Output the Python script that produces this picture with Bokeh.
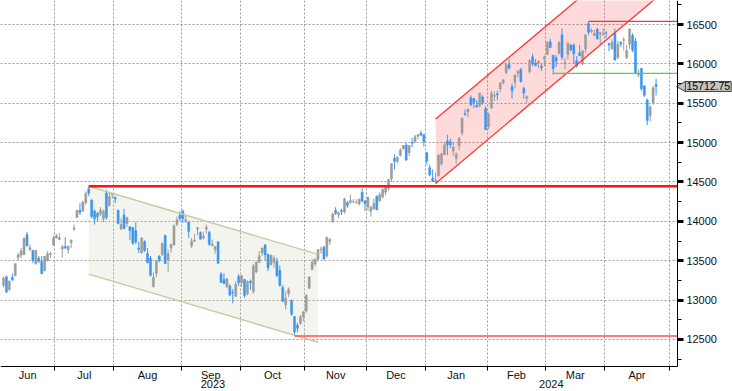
import math
from bokeh.plotting import figure
from bokeh.models import FixedTicker, Range1d, Label, ColumnDataSource, LinearAxis, Grid
from bokeh.embed import file_html
from bokeh.resources import INLINE

# ---------------- data (daily bars, Jun 2023 - Apr 2024) ----------------
opens = [
    13190,13295,13130,13290,13310,13540,13570,13580,13830,13640,13630,13460,13530,13490,13370,13500,13580,13700,
    13790,13770,13650,13680,13640,13730,13900,14050,14140,14130,14240,14410,14270,14130,14100,14090,14030,14360,14200,14340,
    14300,14140,13900,14080,13970,13930,13920,13880,13660,13600,13740,13590,13530,13170,13340,13560,13580,13820,13510,13660,13700,13960,14080,
    14130,14000,13990,13690,13750,13900,13860,13790,13900,13860,13690,13640,13740,13330,13260,13170,13180,13100,13050,13300,
    13220,13260,13080,13240,13110,13360,13480,13600,13700,13580,13450,13480,13490,13380,13160,12940,13080,12990,12790,12680,12700,12790,
    12860,13150,13390,13460,13520,13640,13670,13560,13740,13990,14140,14080,14140,14120,14240,14240,14250,14240,14220,14370,14260,
    14180,14130,14160,14320,14260,14310,14370,14420,14540,14800,14760,14840,14920,14970,14870,15000,15010,15080,15120,15100,
    14870,14680,14550,14500,14580,14730,14850,15020,15010,14890,14800,14960,15120,15370,15390,15570,15560,15470,15470,15580,15430,
    15200,15440,15590,15620,15680,15760,15890,15990,15710,15760,15880,15930,15690,15560,15900,16090,16010,16010,15970,16060,
    16120,16280,16110,16080,16130,16370,16000,16120,16240,16240,16040,16140,16000,16190,16510,16410,16360,16440,16380,16370,
    16400,16260,16190,16390,16080,16270,16300,16080,16250,16360,16290,15860,15940,15720,15540,15340,15500,15740,
]
highs = [
    13300,13310,13250,13340,13465,13600,13660,13800,13864,13710,13640,13640,13560,13560,13560,13620,13610,13816,
    13840,13850,13700,13800,13690,13770,13960,14150,14230,14260,14380,14446,14280,14150,14120,14180,14150,14400,14360,14360,
    14320,14150,14040,14160,14060,13940,13930,13990,13740,13800,13760,13660,13560,13350,13510,13570,13730,13830,13640,13720,13960,14060,14130,
    14150,14070,14000,13790,13840,13930,13870,13870,13960,13880,13770,13690,13750,13360,13340,13280,13200,13140,13240,13330,
    13320,13270,13250,13260,13460,13490,13620,13670,13710,13590,13580,13570,13540,13440,13190,13110,13160,13010,12800,12710,12810,12860,
    13070,13300,13520,13530,13650,13680,13690,13800,13790,14110,14180,14120,14160,14300,14260,14340,14280,14280,14290,14420,14270,
    14310,14190,14290,14330,14370,14420,14440,14540,14740,14850,14830,14930,14970,15000,14970,15060,15100,15110,15150,15110,
    14880,14720,14660,14620,14850,14870,15000,15100,15050,15000,14880,15070,15320,15420,15430,15600,15570,15540,15630,15600,15460,
    15380,15660,15650,15660,15770,15810,16000,16060,15750,15860,15920,15950,15710,15600,16060,16130,16060,16040,16000,16110,
    16290,16320,16110,16110,16290,16450,16080,16270,16250,16260,16100,16240,16170,16370,16539,16450,16430,16460,16400,16450,
    16420,16270,16320,16450,16290,16290,16340,16240,16450,16390,16330,15930,15950,15730,15560,15480,15720,15810,
]
lows = [
    13160,13090,13120,13240,13300,13500,13530,13570,13680,13620,13470,13450,13470,13330,13370,13490,13540,13690,
    13780,13760,13540,13650,13590,13660,13880,14040,14080,14120,14210,14320,14040,13960,14000,14070,13990,14020,14190,14290,
    14230,13960,13890,13900,13930,13760,13700,13710,13600,13590,13610,13470,13300,13160,13290,13480,13560,13460,13360,13600,13690,13940,14000,
    13980,13980,13790,13660,13740,13820,13770,13770,13850,13690,13680,13590,13460,13220,13200,13150,13050,12960,13040,13180,
    13170,13030,13060,13130,13080,13340,13470,13560,13500,13370,13440,13410,13290,13170,12980,12880,13040,12800,12544,12590,12690,12730,
    12840,13140,13380,13430,13490,13590,13510,13540,13700,13990,14080,14040,14080,14100,14170,14220,14230,14220,14200,14240,14130,
    14130,14060,14150,14140,14250,14290,14330,14390,14500,14660,14740,14820,14910,14770,14830,14940,15000,15040,15080,14950,
    14720,14570,14500,14480,14570,14710,14840,14840,14930,14830,14730,14900,15090,15340,15320,15460,15440,15440,15450,15480,15160,
    15170,15430,15530,15540,15640,15740,15870,15930,15560,15690,15830,15760,15560,15500,15880,15970,15970,15950,15910,15970,
    16110,16200,15860,15960,16120,16050,15930,16050,16160,16000,15950,16100,15980,16140,16370,16390,16360,16310,16240,16360,
    16330,16160,16180,16040,16060,16210,16170,16060,16190,16150,15870,15830,15660,15580,15223,15270,15480,15600,
]
closes = [
    13276,13105,13239,13259,13462,13573,13626,13783,13690,13667,13502,13631,13493,13336,13556,13592,13591,13788,
    13817,13792,13679,13661,13685,13761,13919,14139,14114,14245,14354,14358,14063,14033,14059,14145,14127,14050,14317,14346,
    14284,13973,13960,13909,14046,13884,13722,13738,13645,13788,13631,13475,13317,13291,13498,13506,13721,13464,13591,13705,13944,14019,14035,
    14032,14021,13872,13749,13762,13918,13774,13814,13926,13708,13710,13678,13469,13224,13212,13271,13064,13093,13201,13219,
    13308,13059,13236,13220,13431,13484,13563,13660,13574,13407,13568,13534,13314,13186,12984,13018,13140,12821,12596,12643,12789,12851,
    13061,13294,13478,13519,13640,13650,13521,13798,13768,14094,14104,14114,14125,14285,14200,14266,14251,14241,14282,14258,14226,
    14305,14185,14230,14147,14340,14404,14432,14533,14734,14762,14814,14905,14964,14778,14963,14993,15075,15099,15095,15011,
    14766,14592,14510,14524,14844,14858,14970,14970,14973,14944,14856,15056,15311,15360,15426,15482,15511,15455,15628,15510,15164,
    15362,15629,15598,15609,15757,15794,15991,15943,15656,15859,15906,15776,15631,15581,16042,15997,15976,16035,15948,16092,
    16275,16208,15940,16032,16273,16085,16019,16266,16178,16129,15973,16103,16167,16369,16402,16429,16384,16316,16400,16379,
    16397,16240,16277,16049,16249,16254,16307,16170,16442,16175,15885,15865,15683,15602,15282,15451,15697,15713,
]

month_names = ["Jun", "Jul", "Aug", "Sep", "Oct", "Nov", "Dec", "Jan", "Feb", "Mar", "Apr"]
month_first_bar = [0, 18, 38, 61, 81, 103, 124, 144, 165, 185, 205]
may_first_bar = 227
year_names = ["2023", "2024"]
year_first_bar = [0, 144]
price_ticks = [12500, 13000, 13500, 14000, 14500, 15000, 15500, 16000, 16500]
price_minor_ticks = [12250, 12750, 13250, 13750, 14250, 14750, 15250, 15750, 16250, 16750]
last_price = 15712.75

# drawn studies (bar index, price)
green_channel_x = [29, 107]
green_channel_upper = [14446, 13580]
green_channel_lower = [13330, 12464]
red_channel_x = [147, 229.25]
red_channel_lower = [14480, 17063]
red_channel_upper = [15300, 17883]
level_jul_high = (29, 14446)
level_oct_low = (99, 12544)
level_mar_high = (199, 16539)
level_mar_low = (187, 15880)

# chart geometry: price area ends at X_AXIS / Y_AXIS, the rest holds the axis texts
W, H = 732, 391
X_START, X_AXIS, X_RIGHT = -1.02, 229.25, 248.0
Y_AXIS, Y_BOTTOM, Y_TOP = 12157, 11839, 16805
PX_PER_BAR = W / (X_RIGHT - X_START)

# ---------------- figure ----------------
p = figure(width=W, height=H, output_backend="svg", toolbar_location=None,
           x_range=Range1d(X_START, X_RIGHT), y_range=Range1d(Y_BOTTOM, Y_TOP),
           x_axis_location=None, y_axis_location=None, min_border=0)
p.outline_line_color = None
p.background_fill_color = "white"
p.border_fill_color = "white"
p.center = [r for r in p.center if not isinstance(r, Grid)]

FONT = "Liberation Sans"

boundaries = [b - 0.5 for b in month_first_bar[1:]] + [may_first_bar - 0.5]
xgrid = Grid(dimension=0, ticker=FixedTicker(ticks=boundaries), cross_bounds=(Y_AXIS, Y_TOP))
ygrid = Grid(dimension=1, ticker=FixedTicker(ticks=price_ticks), cross_bounds=(X_START, X_AXIS))
for g in (xgrid, ygrid):
    g.grid_line_color = "#9a9a9a"
    g.grid_line_dash = "2 2"
    g.grid_line_width = 1
    p.add_layout(g, "center")

# x axis: month labels centred in month spans, minor ticks at month boundaries
edges = [X_START] + boundaries
centers = [(edges[i] + edges[i + 1]) / 2 for i in range(len(month_names))]
xa = LinearAxis(fixed_location=Y_AXIS, bounds=(X_START, X_AXIS),
                ticker=FixedTicker(ticks=centers, minor_ticks=boundaries),
                major_label_overrides={c: m for c, m in zip(centers, month_names)})
xa.major_tick_line_color = None
xa.major_tick_out = 0
xa.major_tick_in = 0
xa.minor_tick_out = 4
xa.minor_tick_in = 0
xa.minor_tick_line_color = "black"
xa.axis_line_color = "black"
xa.major_label_standoff = -1
xa.major_label_text_font = FONT
xa.major_label_text_font_size = "11px"
xa.major_label_text_color = "#111111"
p.add_layout(xa, "below")

# year row
yedges = [X_START, year_first_bar[1] - 0.5, X_AXIS]
ycenters = [(yedges[i] + yedges[i + 1]) / 2 for i in range(len(year_names))]
xa2 = LinearAxis(fixed_location=Y_AXIS, ticker=FixedTicker(ticks=ycenters),
                 major_label_overrides={c: y for c, y in zip(ycenters, year_names)})
xa2.axis_line_color = None
xa2.major_tick_line_color = None
xa2.minor_tick_line_color = None
xa2.major_tick_out = 0
xa2.major_label_standoff = 14
xa2.major_label_text_font = FONT
xa2.major_label_text_font_size = "11px"
xa2.major_label_text_color = "#111111"
p.add_layout(xa2, "below")

ya = LinearAxis(fixed_location=X_AXIS, bounds=(Y_AXIS, Y_TOP),
                ticker=FixedTicker(ticks=price_ticks, minor_ticks=price_minor_ticks))
ya.axis_line_color = "black"
ya.major_tick_out = 6
ya.major_tick_in = 0
ya.major_tick_line_width = 3
ya.major_tick_line_color = "black"
ya.minor_tick_out = 4
ya.minor_tick_in = 0
ya.minor_tick_line_color = "black"
ya.major_label_standoff = 3
ya.major_label_text_font = FONT
ya.major_label_text_font_size = "11px"
ya.major_label_text_color = "#111111"
p.add_layout(ya, "right")

# channels (fills)
p.patch(green_channel_x + green_channel_x[::-1],
        green_channel_upper + green_channel_lower[::-1],
        fill_color="#c8c8a8", fill_alpha=0.2, line_color=None)
p.patch(red_channel_x + red_channel_x[::-1],
        red_channel_lower + red_channel_upper[::-1],
        fill_color="#ff3030", fill_alpha=0.18, line_color=None)

# bars
xs = list(range(len(closes)))
colors = ["#9c9c9c" if c >= o else "#3b97f0" for o, c in zip(opens, closes)]
src = ColumnDataSource(dict(
    x=xs, high=highs, low=lows,
    top=[max(o, c) for o, c in zip(opens, closes)],
    bottom=[min(o, c) for o, c in zip(opens, closes)],
    color=colors))
p.segment(x0="x", y0="low", x1="x", y1="high", line_color="color", line_width=1, source=src)
p.vbar(x="x", width=0.7, top="top", bottom="bottom", fill_color="color",
       line_color="color", line_width=0.5, source=src)

# channel edges
p.line(green_channel_x, green_channel_upper, line_color="#c9c9a3", line_width=1.4)
p.line(green_channel_x, green_channel_lower, line_color="#c9c9a3", line_width=1.4)
p.line(red_channel_x, red_channel_upper, line_color="#ff3535", line_width=1.3)
p.line(red_channel_x, red_channel_lower, line_color="#ff3535", line_width=1.3)

# horizontal levels
p.line([level_jul_high[0], X_AXIS], [level_jul_high[1]] * 2, line_color="#ff1414", line_width=2.6)
p.line([level_oct_low[0], X_AXIS], [level_oct_low[1]] * 2, line_color="#ff5050", line_width=1.6)
p.line([level_mar_high[0], X_AXIS], [level_mar_high[1]] * 2, line_color="#ff3030", line_width=1.3)
p.line([level_mar_low[0], X_AXIS], [level_mar_low[1]] * 2, line_color="#3ce03c", line_width=1.4)

# last price tag
p.scatter([X_AXIS + 5.5 / PX_PER_BAR], [last_price], marker="triangle", angle=math.pi / 2,
          size=11, fill_color="#c4c4c4", line_color="#444444", line_width=1)
p.add_layout(Label(x=X_AXIS, y=last_price, x_offset=8, text=f"{last_price:.2f}",
                   text_align="left", text_baseline="middle",
                   text_font=FONT, text_font_size="10.5px", text_color="black",
                   background_fill_color="#c4c4c4", border_line_color="#444444",
                   border_line_width=1, padding=1))

open("out.html", "w").write(file_html(p, INLINE))
